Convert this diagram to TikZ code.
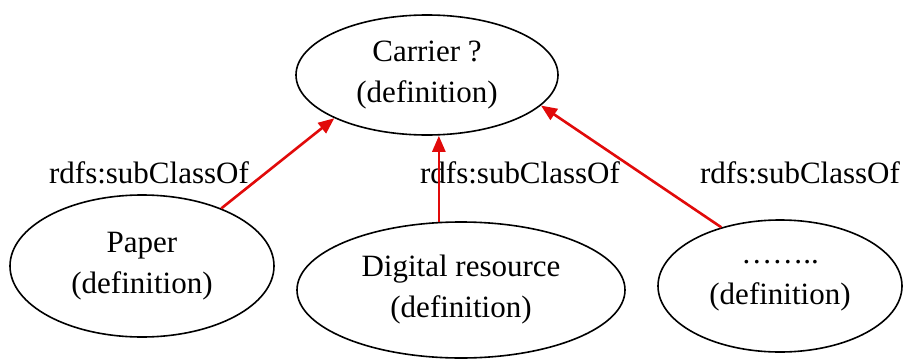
\documentclass[tikz,border=0pt]{standalone}
\usepackage{fontspec}
\setmainfont{Liberation Serif}
\usepackage{tikz}
\usetikzlibrary{positioning, shapes.geometric, arrows.meta}

\tikzset{
  cls/.style={ellipse, draw=black, line width=1.6pt, inner sep=0pt, align=center,
    font=\fontsize{31}{41}\selectfont},
  sub/.style={draw={rgb,255:red,225;green,10;blue,10}, line width=2.6pt,
    -{Triangle[length=16pt,width=13pt]}},
  lbl/.style={font=\fontsize{31}{41}\selectfont, inner sep=0pt}
}

\begin{document}
\begin{tikzpicture}[x=1pt, y=1pt, node distance=1pt, on grid]

\useasboundingbox (0,0) rectangle (905,-359);

% define nodes

% classes

\node[cls, minimum width=262pt, minimum height=120pt] (carrier) at (427,-75) {Carrier ?\\(definition)};
\node[cls, below left=191pt and 285pt of carrier, minimum width=264pt, minimum height=142pt] (paper) {Paper\\(definition)};
\node[cls, below right=215pt and 34pt of carrier, minimum width=328pt, minimum height=136pt] (digital) {Digital resource\\(definition)};
\node[cls, below right=211pt and 353pt of carrier, minimum width=244pt, minimum height=132pt] (other) {……..\\(definition)};

% labels

\node[lbl, above=93pt of paper, xshift=7pt] (l0) {rdfs:subClassOf};
\node[lbl, above=117pt of digital, xshift=59pt] (l1) {rdfs:subClassOf};
\node[lbl, above=113pt of other, xshift=20pt] (l2) {rdfs:subClassOf};

% edges

\draw[sub] (paper.36) -- (carrier.205);
\draw[sub] (digital.108) -- (digital.108 |- carrier.south);
\draw[sub] (other.135) -- (carrier.345);

\end{tikzpicture}
\end{document}
